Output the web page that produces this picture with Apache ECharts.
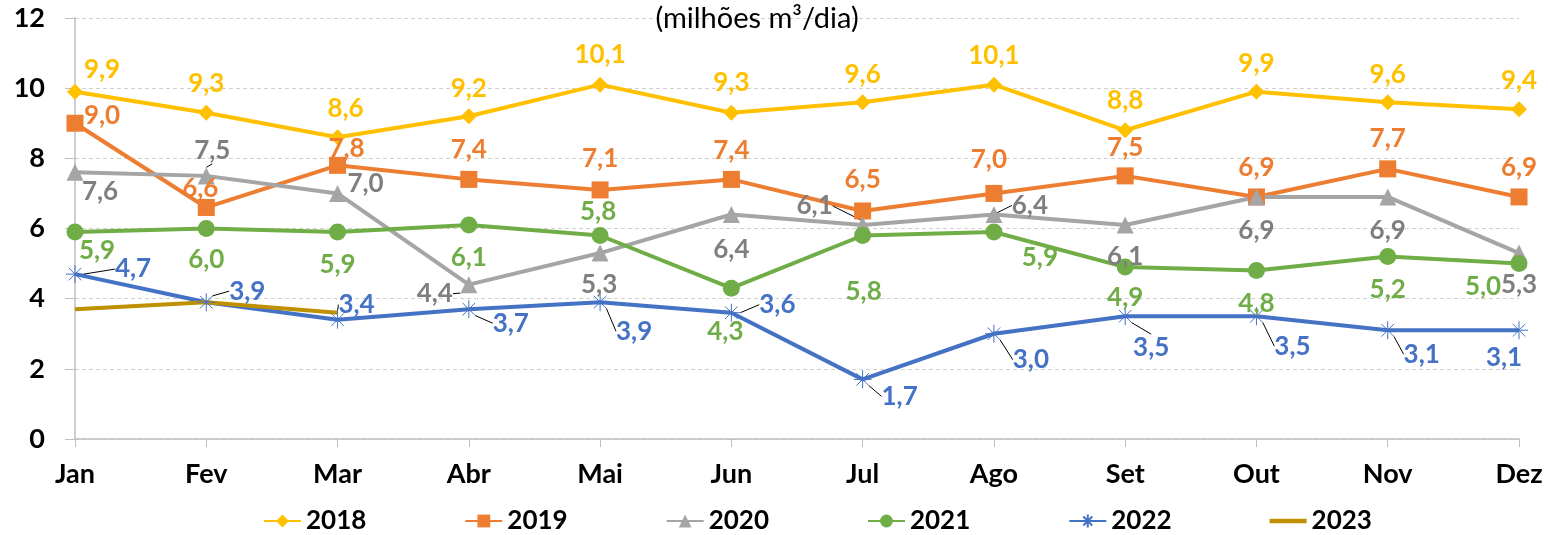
<!DOCTYPE html>
<html>
<head>
<meta charset="utf-8">
<script src="https://cdn.jsdelivr.net/npm/echarts@6/dist/echarts.min.js"></script>
<style>html,body{margin:0;padding:0;background:#fff}#c{width:1548px;height:535px}</style>
</head>
<body>
<div id="c"></div>
<script>
const categories = ['Jan','Fev','Mar','Abr','Mai','Jun','Jul','Ago','Set','Out','Nov','Dez'];
const yTicks = [0, 2, 4, 6, 8, 10, 12];
const unitTitle = '(milhões m³/dia)';
const s2018 = [9.9, 9.3, 8.6, 9.2, 10.1, 9.3, 9.6, 10.1, 8.8, 9.9, 9.6, 9.4];
const s2019 = [9.0, 6.6, 7.8, 7.4, 7.1, 7.4, 6.5, 7.0, 7.5, 6.9, 7.7, 6.9];
const s2020 = [7.6, 7.5, 7.0, 4.4, 5.3, 6.4, 6.1, 6.4, 6.1, 6.9, 6.9, 5.3];
const s2021 = [5.9, 6.0, 5.9, 6.1, 5.8, 4.3, 5.8, 5.9, 4.9, 4.8, 5.2, 5.0];
const s2022 = [4.7, 3.9, 3.4, 3.7, 3.9, 3.6, 1.7, 3.0, 3.5, 3.5, 3.1, 3.1];
const s2023 = [3.7, 3.9, 3.6];

// label offsets (styling only, px relative to point) and leader-line flags
const off2018 = [[27,-22],[0,-29],[8,-29],[0,-28],[0,-30],[0,-30],[0,-28],[0,-29],[0,-30],[0,-28],[0,-28],[0,-29]];
const off2019 = [[27,-8],[-6,-19],[9,-17],[0,-30],[0,-31],[0,-29],[0,-31],[-5,-34],[0,-28],[0,-29],[0,-30],[0,-29]];
const off2020 = [[25,19],[6,-25],[28,-10],[-34,9],[-1,32],[0,35],[-48,-19],[36,-9],[0,32],[0,34],[0,34],[0,32]];
const off2021 = [[22,19],[0,31],[0,33],[0,33],[-2,-24],[-6,43],[1,56],[46,26],[0,31],[0,33],[0,33],[-36,23]];
const off2022 = [[58,-5],[41,-11],[19,-15],[42,14],[34,29],[46,-8],[37,17],[37,26],[26,31],[36,30],[34,24],[-15,27]];
const off2023 = [[25,29],[10,33],[-1,40]];
const lead2020 = [0,1,0,1,0,0,1,1,0,0,0,0];
const lead2022 = [1,1,1,1,1,1,1,1,1,1,1,0];
const lead2023 = [1,1,1];

const FONT = 'Lato';
const fmt = v => v.toFixed(1).replace('.', ',');
const asterisk = 'path://M0,10L20,10M10,0L10,20M3,3L17,17M17,3L3,17';

function mk(name, values, offs, leads, color, labelColor, symbol, size, extra) {
  return Object.assign({
    name: name,
    type: 'line',
    data: values.map((v, i) => ({
      value: v,
      labelLine: { show: !!(leads && leads[i]) }
    })),
    symbol: symbol,
    symbolSize: size,
    showSymbol: symbol !== 'none',
    lineStyle: { color: color, width: 4 },
    itemStyle: { color: color },
    label: {
      show: true,
      position: 'inside',
      formatter: p => fmt(p.value),
      color: labelColor,
      fontFamily: FONT,
      fontWeight: 'bold',
      fontSize: 26
    },
    labelLine: { show: false, lineStyle: { color: '#000', width: 1 } },
    labelLayout: p => ({ dx: offs[p.dataIndex][0], dy: offs[p.dataIndex][1] }),
    emphasis: { disabled: true },
    animation: false,
    z: 2
  }, extra || {});
}

const chart = echarts.init(document.getElementById('c'), null, { renderer: 'canvas' });
chart.setOption({
  animation: false,
  title: {
    text: unitTitle,
    left: 752,
    top: -1,
    textAlign: 'center',
    textStyle: { fontFamily: FONT, fontWeight: 'normal', fontSize: 29, color: '#000' }
  },
  grid: { left: 75, right: 29, top: 18, bottom: 96, containLabel: false },
  legend: {
    left: 258,
    top: 503,
    itemWidth: 37,
    itemHeight: 16,
    itemGap: 98,
    textStyle: { fontFamily: FONT, fontWeight: 'bold', fontSize: 26, color: '#000' },
    data: ['2018','2019','2020','2021','2022',
      { name: '2023', icon: 'path://M0,0H40V5H0Z', itemStyle: { color: '#BF9000' } }]
  },
  xAxis: {
    type: 'category',
    data: categories,
    boundaryGap: false,
    axisLine: { lineStyle: { color: '#BFBFBF', width: 1.5 } },
    axisTick: { show: true, length: 8, lineStyle: { color: '#BFBFBF' } },
    axisLabel: { fontFamily: FONT, fontWeight: 'bold', fontSize: 27, color: '#000', margin: 22 },
    splitLine: { show: false }
  },
  yAxis: {
    type: 'value',
    min: yTicks[0],
    max: yTicks[yTicks.length - 1],
    interval: yTicks[1] - yTicks[0],
    axisLine: { show: true, lineStyle: { color: '#BFBFBF', width: 1.5 } },
    axisTick: { show: true, length: 10, lineStyle: { color: '#BFBFBF' } },
    axisLabel: { fontFamily: FONT, fontWeight: 'bold', fontSize: 27, color: '#000', margin: 30 },
    splitLine: { show: true, lineStyle: { color: '#D0D0D0', type: [4, 3], width: 1 } }
  },
  series: [
    mk('2018', s2018, off2018, null, '#FFC000', '#FFC000', 'diamond', 16),
    mk('2019', s2019, off2019, null, '#ED7D31', '#ED7D31', 'rect', 17),
    mk('2020', s2020, off2020, lead2020, '#A5A5A5', '#7F7F7F', 'triangle', 17),
    mk('2021', s2021, off2021, null, '#70AD47', '#70AD47', 'circle', 17),
    mk('2022', s2022, off2022, lead2022, '#4472C4', '#4472C4', asterisk, 18, {
      itemStyle: { color: '#4472C4', borderColor: '#4472C4', borderWidth: 1 }
    }),
    mk('2023', s2023, off2023, lead2023, '#BF9000', '#7F6000', 'none', 0)
  ]
});
</script>
</body>
</html>
